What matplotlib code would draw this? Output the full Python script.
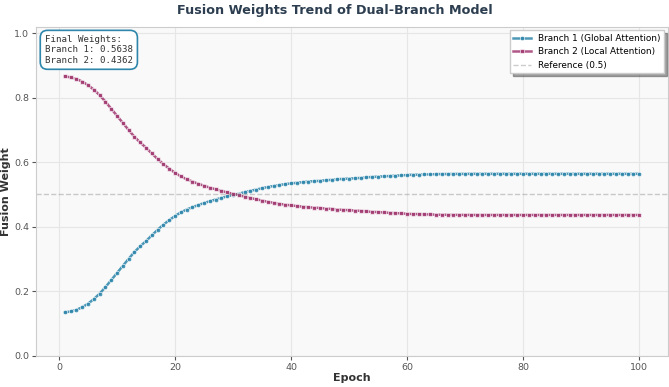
import matplotlib
matplotlib.use("Agg")
import matplotlib.pyplot as plt

epochs = list(range(1, 101))

branch1 = [0.134, 0.137, 0.142, 0.150, 0.161, 0.175, 0.192, 0.212, 0.234, 0.256,
           0.278, 0.300, 0.321, 0.339, 0.355, 0.373, 0.390, 0.406, 0.420, 0.433,
           0.444, 0.453, 0.460, 0.467, 0.473, 0.479, 0.484, 0.489, 0.494, 0.498,
           0.502, 0.507, 0.511, 0.515, 0.519, 0.523, 0.526, 0.529, 0.532, 0.534,
           0.536, 0.538, 0.540, 0.541, 0.542, 0.544, 0.545, 0.547, 0.548, 0.549,
           0.550, 0.551, 0.553, 0.554, 0.555, 0.556, 0.557, 0.558, 0.559, 0.560,
           0.561, 0.561, 0.562, 0.562, 0.563, 0.563, 0.5632, 0.5634, 0.5635, 0.5636,
           0.5637, 0.5638, 0.5638, 0.5638, 0.5638, 0.5638, 0.5638, 0.5638, 0.5638, 0.5638,
           0.5638, 0.5638, 0.5638, 0.5638, 0.5638, 0.5638, 0.5638, 0.5638, 0.5638, 0.5638,
           0.5638, 0.5638, 0.5638, 0.5638, 0.5638, 0.5638, 0.5638, 0.5638, 0.5638, 0.5638]

branch2 = [0.866, 0.863, 0.858, 0.850, 0.839, 0.825, 0.808, 0.788, 0.766, 0.744,
           0.722, 0.700, 0.679, 0.661, 0.645, 0.627, 0.610, 0.594, 0.580, 0.567,
           0.556, 0.547, 0.540, 0.533, 0.527, 0.521, 0.516, 0.511, 0.506, 0.502,
           0.498, 0.493, 0.489, 0.485, 0.481, 0.477, 0.474, 0.471, 0.468, 0.466,
           0.464, 0.462, 0.460, 0.459, 0.458, 0.456, 0.455, 0.453, 0.452, 0.451,
           0.450, 0.449, 0.447, 0.446, 0.445, 0.444, 0.443, 0.442, 0.441, 0.440,
           0.439, 0.439, 0.438, 0.438, 0.437, 0.437, 0.4368, 0.4366, 0.4365, 0.4364,
           0.4363, 0.4362, 0.4362, 0.4362, 0.4362, 0.4362, 0.4362, 0.4362, 0.4362, 0.4362,
           0.4362, 0.4362, 0.4362, 0.4362, 0.4362, 0.4362, 0.4362, 0.4362, 0.4362, 0.4362,
           0.4362, 0.4362, 0.4362, 0.4362, 0.4362, 0.4362, 0.4362, 0.4362, 0.4362, 0.4362]

final_text = "Final Weights:\nBranch 1: 0.5638\nBranch 2: 0.4362"

BLUE = "#2E86AB"
PINK = "#A23B72"

fig = plt.figure(figsize=(6.69, 3.87), dpi=100)
ax = fig.add_axes([0.0538, 0.081, 0.9445, 0.85])
ax.set_facecolor("#f9f9f9")

ax.plot(epochs, branch1, "-o", color=BLUE, lw=1.8, ms=3.2, alpha=0.85,
        mec="white", mew=0.5, label="Branch 1 (Global Attention)")
ax.plot(epochs, branch2, "-s", color=PINK, lw=1.8, ms=3.2, alpha=0.85,
        mec="white", mew=0.5, label="Branch 2 (Local Attention)")
ax.axhline(0.5, color="gray", ls="--", lw=1, alpha=0.4, label="Reference (0.5)")

ax.set_ylim(0, 1.02)
ax.set_xlabel("Epoch", fontsize=8, fontweight="bold", color="#333333", labelpad=1)
ax.set_ylabel("Fusion Weight", fontsize=8, fontweight="bold", color="#333333", labelpad=2)
fig.suptitle("Fusion Weights Trend of Dual-Branch Model", fontsize=9.2,
             fontweight="bold", color="#2c3e50", y=0.99)

ax.grid(True, color="#e6e6e6", lw=0.8)
ax.set_axisbelow(True)
for s in ax.spines.values():
    s.set_color("#cccccc")
ax.tick_params(labelsize=6.8, colors="#555555", length=3, pad=2)

ax.legend(loc="upper right", fontsize=6.4, shadow=True, fancybox=False,
          framealpha=1, edgecolor="#cccccc", borderaxespad=0.4)

ax.text(0.014, 0.975, final_text, transform=ax.transAxes, va="top", ha="left",
        family="DejaVu Sans Mono", fontsize=6.6, color="#333333",
        bbox=dict(boxstyle="round,pad=0.5,rounding_size=0.8", fc="white", ec=BLUE, lw=1.2))

plt.savefig("out.png", dpi=100)
